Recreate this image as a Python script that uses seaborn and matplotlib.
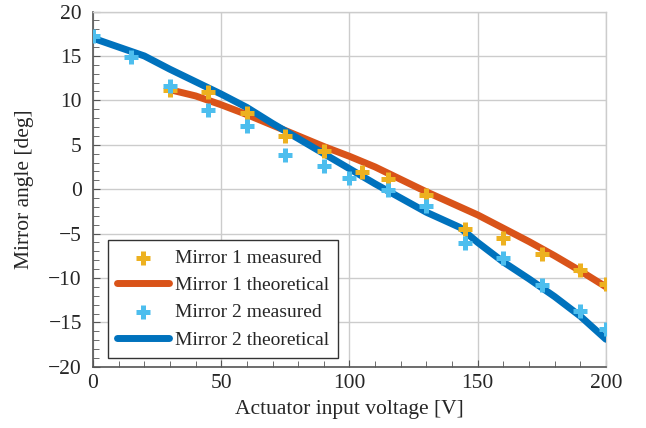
import numpy as np
import matplotlib.pyplot as plt
import seaborn as sns
from matplotlib.ticker import MultipleLocator

sns.set_style("white")
plt.rcParams['font.family'] = ['Liberation Serif', 'DejaVu Serif']

# measured data
m1_volt = [30, 45, 60, 75, 90, 105, 115, 130, 145, 160, 175, 190, 200]
m1_meas = [11.2, 10.9, 8.6, 6.0, 4.3, 1.95, 1.2, -0.6, -4.5, -5.5, -7.3, -9.1, -10.7]
m2_volt = [0, 15, 30, 45, 60, 75, 90, 100, 115, 130, 145, 160, 175, 190, 200]
m2_meas = [17.2, 14.9, 11.6, 8.9, 7.1, 3.9, 2.6, 1.25, -0.1, -1.9, -6.1, -7.8, -10.8, -13.7, -15.8]

# theoretical curves
m1_th_volt = [30, 40, 50, 60, 70, 80, 90, 100, 110, 120, 130, 140, 150, 160, 170, 180, 190, 200]
m1_th = [11.2, 10.5, 9.5, 8.4, 7.2, 6.0, 4.8, 3.7, 2.5, 1.1, -0.3, -1.6, -2.9, -4.4, -5.9, -7.5, -9.2, -11.0]
m2_th_volt = [0, 10, 20, 30, 40, 50, 60, 70, 80, 90, 100, 110, 120, 130, 143, 150, 160, 170, 180, 190, 200]
m2_th = [17.0, 16.0, 15.0, 13.5, 12.1, 10.7, 9.2, 7.4, 5.7, 4.0, 2.3, 0.6, -1.0, -2.6, -4.3, -6.0, -8.2, -10.1, -12.1, -14.3, -16.9]

yticks = [-20, -15, -10, -5, 0, 5, 10, 15, 20]

c_m1, c_t1 = '#EDB120', '#D95319'
c_m2, c_t2 = '#4DBEEE', '#0072BD'

fig, ax = plt.subplots(figsize=(6.46, 4.28), dpi=100)
fig.subplots_adjust(left=0.144, right=0.938, top=0.973, bottom=0.143)

mk = dict(marker='+', s=110, linewidth=3.6)
sns.scatterplot(x=m1_volt, y=m1_meas, color=c_m1, label='Mirror 1 measured', ax=ax, zorder=4, **mk)
sns.lineplot(x=m1_th_volt, y=m1_th, color=c_t1, linewidth=5, label='Mirror 1 theoretical',
             ax=ax, zorder=3, solid_capstyle='round', solid_joinstyle='round')
sns.scatterplot(x=m2_volt, y=m2_meas, color=c_m2, label='Mirror 2 measured', ax=ax, zorder=4, **mk)
sns.lineplot(x=m2_th_volt, y=m2_th, color=c_t2, linewidth=5, label='Mirror 2 theoretical',
             ax=ax, zorder=3, solid_capstyle='round', solid_joinstyle='round')

ax.set_xlim(0, 200)
ax.set_ylim(-20, 20)
ax.xaxis.set_major_locator(MultipleLocator(50))
ax.xaxis.set_minor_locator(MultipleLocator(10))
ax.yaxis.set_minor_locator(MultipleLocator(1))
ax.set_yticks(yticks)
ax.set_yticklabels([str(v).replace('-', '\u2212') for v in yticks])
ax.grid(True, which='major', color='#cccccc', linewidth=1)
ax.tick_params(which='both', direction='in', bottom=True, left=True, top=False, right=False,
               color='#555555', labelsize=15.5)
ax.tick_params(axis='y', pad=8)
ax.tick_params(axis='x', pad=5)
ax.tick_params(which='major', length=5)
ax.tick_params(which='minor', length=4)

for s in ['left', 'bottom']:
    ax.spines[s].set_color('#555555')
    ax.spines[s].set_linewidth(1.2)
for s in ['top', 'right']:
    ax.spines[s].set_color('#cccccc')
    ax.spines[s].set_linewidth(1)

ax.set_xlabel('Actuator input voltage [V]', fontsize=15.5, labelpad=5)
ax.set_ylabel('Mirror angle [deg]', fontsize=15.5, labelpad=10)

leg = ax.legend(loc='lower left', bbox_to_anchor=(0.029, 0.026), borderaxespad=0, fontsize=14,
                frameon=True, fancybox=False, edgecolor='#333333', framealpha=1, handlelength=2.7,
                borderpad=0.45, labelspacing=0.5, handletextpad=0.3)
leg.get_frame().set_linewidth(1)

fig.savefig('out.png', dpi=100)
